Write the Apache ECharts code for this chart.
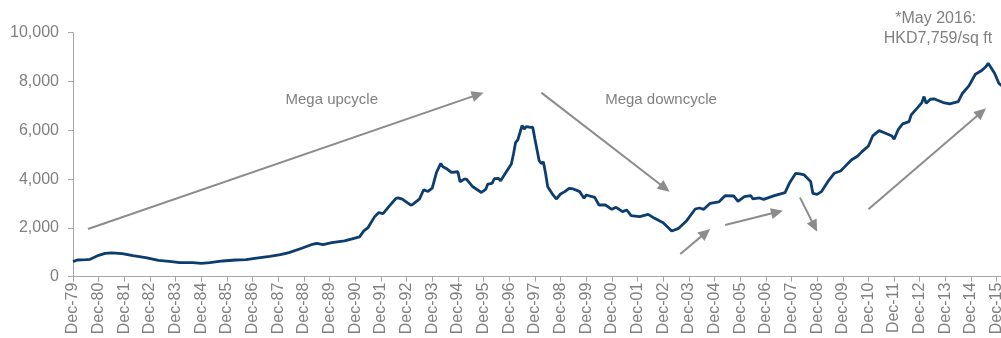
<!DOCTYPE html>
<html>
<head>
<meta charset="utf-8">
<script src="https://cdn.jsdelivr.net/npm/echarts@6/dist/echarts.min.js"></script>
<style>
html,body{margin:0;padding:0;background:#fff;}
#chart{width:1001px;height:338px;}
</style>
</head>
<body>
<div id="chart"></div>
<script>
// Month index counted from Dec-79 (0 = Dec-79, 12 = Dec-80, ...)
var months = [0,2,6,8,12,15,18,23,28,34,40,45,50,56,60,64,70,76,81,85,92,97,101,107,112,114,117,121,127,131,134,136,138,141,143,145,148,151,152,154,158,159,162,164,166,168,170,172,173,175,177,180,181,183,184,187,191,193,194,196,197,199,200,202,205,206,207,208,210,211,212,214,215,216,218,219,220,221,222,224,226,228,230,232,234,237,239,240,244,246,249,252,254,257,259,261,265,269,272,276,280,283,287,291,293,295,298,302,305,309,311,314,317,318,321,323,328,333,335,338,340,342,345,346,348,350,353,356,359,361,364,367,369,372,374,377,380,383,384,386,388,391,392,395,397,398,399,401,403,404,407,410,414,416,419,422,425,427,428,431,433,434,437];
// Price, HKD per sq ft
var prices = [620,685,700,712,877,959,973,945,863,781,671,630,575,575,548,575,644,685,699,753,836,904,986,1164,1329,1370,1315,1397,1466,1562,1630,1877,2014,2452,2630,2589,2904,3205,3233,3178,2932,2973,3178,3562,3493,3630,4274,4644,4507,4411,4274,4301,3890,4000,4000,3685,3452,3575,3795,3822,4014,4027,3932,4205,4616,5027,5507,5603,6192,6055,6151,6123,6130,5650,4760,4640,4700,4238,3691,3418,3185,3390,3486,3623,3595,3486,3212,3349,3253,2939,2939,2761,2843,2666,2734,2502,2461,2556,2392,2215,1873,1968,2297,2775,2816,2761,3007,3062,3322,3308,3089,3281,3322,3185,3226,3171,3322,3445,3828,4238,4210,4169,3896,3418,3376,3486,3896,4238,4333,4511,4785,4949,5126,5359,5769,5987,5878,5769,5632,6042,6261,6357,6630,6931,7136,7382,7108,7272,7286,7245,7136,7081,7177,7519,7819,8298,8448,8612,8749,8339,7929,7850,7759];
var yTicks = [0,2000,4000,6000,8000,10000];
var startYear = 1979;
var visibleEndMonth = 434; // the picture is cut at Feb-16
// Arrow annotations: [startMonth, startValue, tipMonth, tipValue]
var arrows = [
  [7, 1956, 192, 7544],
  [219, 7544, 279, 3485],
  [284, 931, 298, 1956],
  [305, 2120, 332, 2706],
  [340, 3239, 348, 1845],
  [372, 2763, 427, 6904]
];
var labels = {
  up: 'Mega upcycle',
  down: 'Mega downcycle',
  note1: '*May 2016:',
  note2: 'HKD7,759/sq ft'
};
// label anchors in data units [month, value]
var labelAnchors = {
  up: [121, 7240],
  down: [275, 7240],
  note1: [403.5, 10560],
  note2: [404.5, 9760]
};

var FONT = '"Liberation Sans", Arial, sans-serif';
var GREY = '#808080';
var ARROW = '#8c8c8c';
var data = months.map(function (m, i) { return [m, prices[i]]; });

var chart = echarts.init(document.getElementById('chart'), null, {renderer: 'canvas'});
chart.setOption({
  animation: false,
  backgroundColor: '#ffffff',
  grid: {left: 73, right: 0, top: 32.7, bottom: 61.3, containLabel: false, outerBoundsMode: 'none'},
  xAxis: {
    type: 'value',
    min: 0,
    max: visibleEndMonth,
    interval: 12,
    splitLine: {show: false},
    axisLine: {show: true, onZero: false, lineStyle: {color: '#a6a6a6', width: 1}},
    axisTick: {show: true, length: 5, lineStyle: {color: '#a6a6a6'}},
    axisLabel: {
      rotate: 90,
      margin: 6,
      color: GREY,
      fontFamily: FONT,
      fontSize: 16,
      showMaxLabel: false,
      hideOverlap: false,
      formatter: function (v) {
        if (v % 12 !== 0) return '';
        var y = (startYear + v / 12) % 100;
        return 'Dec-' + (y < 10 ? '0' + y : '' + y);
      }
    }
  },
  yAxis: {
    type: 'value',
    min: yTicks[0],
    max: yTicks[yTicks.length - 1],
    interval: 2000,
    splitLine: {show: false},
    axisLine: {show: true, lineStyle: {color: '#a6a6a6', width: 1}},
    axisTick: {show: true, length: 5, lineStyle: {color: '#a6a6a6'}},
    axisLabel: {
      margin: 14,
      color: GREY,
      fontFamily: FONT,
      fontSize: 16,
      formatter: function (v) { return v.toLocaleString('en-US'); }
    }
  },
  series: [{
    type: 'line',
    data: data,
    showSymbol: false,
    symbol: 'none',
    smooth: false,
    clip: true,
    lineStyle: {color: '#0b3d6f', width: 2.8},
    itemStyle: {color: '#0b3d6f'},
    silent: true
  }]
});

function px(p) { return chart.convertToPixel({xAxisIndex: 0, yAxisIndex: 0}, p); }

var g = [];
arrows.forEach(function (a) {
  var s = px([a[0], a[1]]), t = px([a[2], a[3]]);
  var dx = t[0] - s[0], dy = t[1] - s[1];
  var len = Math.sqrt(dx * dx + dy * dy);
  var ux = dx / len, uy = dy / len;
  var headL = 12, headW = 5.5;
  var bx = t[0] - ux * headL, by = t[1] - uy * headL;
  g.push({type: 'line', silent: true,
    shape: {x1: s[0], y1: s[1], x2: bx + ux * 2, y2: by + uy * 2},
    style: {stroke: ARROW, lineWidth: 2}});
  g.push({type: 'polygon', silent: true,
    shape: {points: [[t[0], t[1]], [bx - uy * headW, by + ux * headW], [bx + uy * headW, by - ux * headW]]},
    style: {fill: ARROW}});
});
function addText(key, size) {
  var p = px(labelAnchors[key]);
  g.push({type: 'text', x: p[0], y: p[1], silent: true,
    style: {text: labels[key], fill: GREY, font: size + 'px ' + FONT,
      align: 'center', verticalAlign: 'middle', textAlign: 'center', textVerticalAlign: 'middle'}});
}
addText('up', 15);
addText('down', 15);
addText('note1', 16);
addText('note2', 16);
chart.setOption({graphic: g});
</script>
</body>
</html>
